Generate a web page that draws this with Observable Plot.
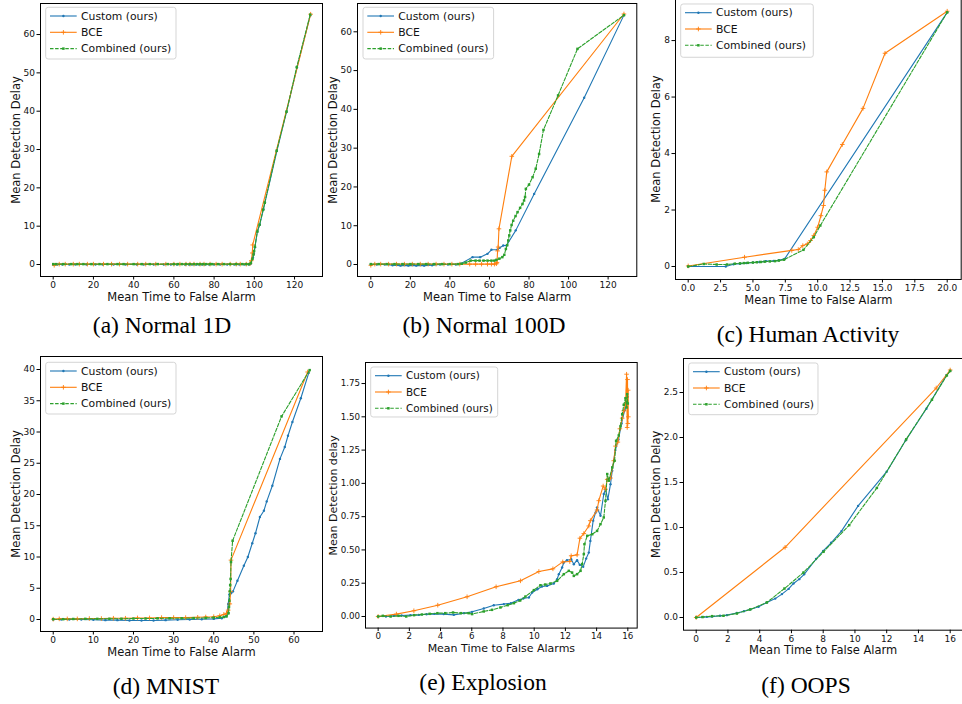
<!DOCTYPE html>
<html><head><meta charset="utf-8">
<script src="https://cdn.jsdelivr.net/npm/d3@7"></script>
<script src="https://cdn.jsdelivr.net/npm/@observablehq/plot@0.6"></script>
<style>
body{margin:0;background:#fff;overflow:hidden;}
#root{position:relative;width:962px;height:704px;overflow:hidden;background:#fff;}
.cap{position:absolute;font-family:"Liberation Serif","Times New Roman",serif;font-size:23.5px;color:#000;transform:translate(-50%,-50%);white-space:nowrap;}
svg{position:absolute;overflow:visible;}
</style></head><body><div id="root"></div>
<script>
// ---------- series meta ----------
const seriesNames = ["Custom (ours)", "BCE", "Combined (ours)"];
const seriesColors = ["#1f77b4", "#ff7f0e", "#2ca02c"];

// ---------- (a) Normal 1D ----------
const normal1d_custom = [[0,0],[2.1,0],[4.5,0],[8,0],[11,0],[16.5,0],[21,0],[24.5,0],[30,0],[36,0],[41.5,0],[45,0],[50,0],[55,0],[58.5,0],[61.5,0],[65.5,0],[67.5,0],[69,0],[71,0],[72.5,0],[74,0],[75.5,0],[77.5,0],[80,0],[83,0],[86.5,0],[90,0],[92.5,0],[95,0],[97.3,0],[98.2,0.2],[99.3,1.8],[99.8,2.8],[100.3,4.5],[101.5,8.6],[102.7,10.4],[104.5,14.4],[105.3,16.2],[111.2,29.6],[116,39.8],[121.2,51.4],[127.8,65.0]];
const normal1d_bce = [[0.5,-0.2],[3,0.1],[6,0.1],[10,0.1],[13,0.1],[17,0.1],[20,0.1],[25,0.1],[29,0.1],[33,0.1],[37,0.1],[42,0.1],[46,0.1],[51,0.1],[56,0.1],[60,0.1],[63,0.1],[66,0.1],[68,0.1],[70,0.1],[73,0.1],[75,0.1],[78,0.1],[81,0.1],[84,0.1],[88,0.1],[91,0.1],[93,0.1],[96,0.1],[97.8,0.2],[98.5,1.0],[99.0,3.0],[99.2,5.1],[128,65.3]];
const normal1d_comb = [[0,0.1],[1.5,0.1],[5,0.1],[9,0.1],[12,0.1],[15,0.1],[19,0.1],[23,0.1],[27,0.1],[32,0.1],[35,0.1],[40,0.1],[44,0.1],[48,0.1],[52,0.1],[57,0.1],[60,0.1],[62,0.1],[64,0.1],[66,0.1],[68,0.1],[70,0.1],[71.5,0.1],[73,0.1],[74.5,0.1],[76,0.1],[78,0.1],[79,0.1],[82,0.1],[85,0.1],[88,0.1],[91,0.1],[94,0.1],[96,0.1],[97.5,0.1],[98.3,0.4],[99.1,1.5],[99.6,2.6],[99.9,3.5],[100.3,4.6],[101.5,8.6],[102.6,10.4],[104.4,14.3],[105.2,16.1],[111.1,29.7],[116,39.9],[121.1,51.5],[127.8,65.2]];

// ---------- (b) Normal 100D ----------
const normal100d_custom = [[0,0],[3,0],[7,0],[11,-0.2],[15,-0.3],[19,-0.3],[23,-0.3],[27,-0.3],[31,-0.2],[35,0],[39,0],[43,0],[45.5,0.2],[51.4,1.9],[55.3,1.9],[59,2.75],[61,3.8],[64,3.8],[65.2,4.3],[67,4.9],[68.6,4.9],[73.3,8.8],[82.6,18.2],[107.9,43],[128,64.3]];
const normal100d_bce = [[0,-0.2],[2,0.1],[5,0.1],[9,0.1],[13,0.1],[17,0.1],[21,0.1],[25,0.1],[29,0.1],[33,0.1],[37,0.1],[41,0.1],[45,0.1],[50,0.1],[53,0.1],[56,0.1],[59,0.1],[61,0.1],[62.5,0.1],[63.5,0.2],[63.8,0.5],[64.1,3.5],[64.4,4.5],[64.8,9.2],[71.3,27.9],[128,64.6]];
const normal100d_comb = [[0,0.1],[4,0.1],[8,0.1],[12,0.1],[16,0.1],[20,0.1],[24,0.1],[28,0.1],[32,0.1],[36,0.1],[40,0.1],[44,0.1],[46,0.2],[48,0.5],[50.5,1.0],[53,1.0],[55,1.0],[57,1.0],[59,1.0],[61,1.0],[62.5,1.0],[63.5,1.2],[65,1.5],[66.5,1.9],[67.5,2.5],[68.3,4.0],[69,5.0],[69.5,6.2],[70,7.5],[70.5,8.8],[71.2,10.2],[72,11.3],[73.2,12.5],[74.2,13.5],[75.5,14.6],[76.7,15.6],[77.5,16.5],[78,17.4],[78.4,19.5],[80,20.6],[81.8,22.5],[83.4,24.7],[85.1,28.5],[87.3,34.7],[94.7,43.6],[104.5,55.6],[128,64.3]];

// ---------- (c) Human Activity ----------
const human_custom = [[0,0],[2.9,0],[3.5,0.08],[4.0,0.1],[4.5,0.12],[5.0,0.14],[5.5,0.16],[6.0,0.19],[6.6,0.2],[7.0,0.22],[7.45,0.27],[20,9.0]];
const human_bce = [[0,0.02],[4.35,0.33],[8.0,0.57],[8.5,0.6],[8.85,0.74],[9.2,0.8],[9.45,0.92],[9.7,1.1],[10.0,1.39],[10.25,1.8],[10.45,2.16],[10.55,2.7],[10.7,3.35],[11.9,4.32],[13.5,5.6],[15.2,7.55],[20,9.04]];
const human_comb = [[0,0],[1.2,0.09],[2.2,0.07],[3.0,0.07],[3.6,0.1],[4.0,0.11],[4.3,0.12],[4.6,0.13],[5.0,0.14],[5.3,0.15],[5.6,0.16],[5.9,0.17],[6.3,0.18],[6.7,0.19],[7.0,0.21],[7.4,0.24],[8.9,0.59],[9.7,1.04],[10.2,1.45],[20,9.0]];

// ---------- (d) MNIST ----------
const mnist_custom = [[0,0],[2,0],[4,0],[7,0],[10,-0.05],[13,-0.1],[16,-0.1],[19,-0.15],[22,-0.15],[25,-0.15],[28,-0.1],[31,-0.05],[34,0],[37,0.05],[40,0.1],[42,0.2],[43,0.5],[43.4,1.2],[43.6,2.5],[43.9,4.0],[44.3,4.2],[44.8,4.5],[45.9,6.2],[47.5,8.6],[48.5,10],[49.6,12.2],[50.4,13.8],[51.5,16.4],[52.5,17.4],[53.2,18.9],[54.6,21.4],[56.5,25.7],[57.7,27.6],[58.5,29.4],[59.6,31.6],[61.7,35.4],[63.7,39.5]];
const mnist_bce = [[0,0.05],[1.5,0.1],[3.5,0.1],[6,0.1],[9,0.15],[12,0.15],[15,0.2],[18,0.2],[21,0.25],[24,0.25],[27,0.3],[30,0.3],[33,0.3],[36,0.35],[38,0.4],[40,0.45],[41.5,0.6],[42.5,0.8],[43.2,1.0],[43.6,1.5],[44.0,2.5],[44.2,4.5],[44.3,9.5],[63.4,39.6]];
const mnist_comb = [[0,0.05],[2.5,0.05],[5,0.08],[8,0.1],[11,0.1],[14,0.12],[17,0.12],[20,0.15],[23,0.15],[26,0.18],[29,0.2],[32,0.2],[35,0.22],[38,0.25],[40,0.3],[41.5,0.35],[42.5,0.4],[43.2,0.5],[43.7,1.0],[43.8,2.0],[43.9,3.0],[44.0,4.5],[44.1,5.5],[44.2,6.5],[44.3,9.2],[44.7,12.6],[56.9,32.5],[63.9,39.9]];

// ---------- (e) Explosion ----------
const explosion_custom = [[0,0],[0.5,0.0],[1.0,0.005],[1.5,0.008],[2.07,0.01],[2.6,0.012],[3.1,0.017],[3.6,0.02],[4.2,0.018],[4.85,0.0125],[5.5,0.025],[6.02,0.035],[6.77,0.06],[7.41,0.085],[8.05,0.093],[8.5,0.1],[9.0,0.125],[9.3,0.135],[9.66,0.143],[9.87,0.18],[10.2,0.205],[10.5,0.225],[10.83,0.23],[11.26,0.248],[11.47,0.28],[11.58,0.318],[11.79,0.368],[11.9,0.406],[12.1,0.423],[12.37,0.43],[12.54,0.393],[12.75,0.423],[12.92,0.388],[13.14,0.373],[13.33,0.435],[13.5,0.48],[13.6,0.568],[13.78,0.72],[13.93,0.78],[14.03,0.82],[14.25,0.756],[14.46,0.92],[14.57,0.956],[14.72,0.88],[14.89,0.994],[15.0,1.094],[15.2,1.25],[15.4,1.33],[15.6,1.45],[15.8,1.55],[15.95,1.6],[16.0,1.65]];
const explosion_bce = [[0,0],[1.17,0.018],[2.29,0.043],[3.82,0.085],[5.7,0.148],[7.56,0.223],[9.12,0.268],[10.3,0.338],[11.2,0.358],[11.83,0.41],[12.28,0.413],[12.37,0.456],[12.75,0.463],[12.93,0.588],[13.18,0.623],[13.5,0.68],[13.6,0.72],[14.03,0.8],[14.14,0.87],[14.42,0.98],[14.57,0.956],[14.68,1.03],[14.89,1.04],[15.1,1.17],[15.21,1.28],[15.36,1.31],[15.49,1.41],[15.64,1.49],[15.74,1.545],[15.85,1.595],[15.92,1.82],[15.96,1.42],[15.98,1.78],[16.0,1.45],[16.02,1.7],[16.03,1.5]];
const explosion_comb = [[0,0.0],[0.3,0.005],[0.8,0.0],[1.3,0.005],[1.8,0.0],[2.3,0.01],[2.8,0.015],[3.3,0.02],[3.8,0.025],[4.3,0.025],[4.8,0.03],[5.3,0.025],[5.8,0.025],[6.02,0.018],[6.77,0.038],[7.3,0.05],[7.84,0.068],[8.3,0.085],[8.7,0.1],[9.1,0.12],[9.44,0.15],[9.98,0.198],[10.4,0.235],[10.7,0.24],[11.04,0.248],[11.47,0.268],[11.9,0.318],[12.22,0.343],[12.43,0.33],[12.54,0.305],[12.75,0.318],[12.97,0.343],[13.07,0.393],[13.18,0.468],[13.22,0.543],[13.4,0.606],[13.72,0.618],[14.03,0.643],[14.25,0.694],[14.46,0.744],[14.57,0.869],[14.68,1.07],[14.78,1.02],[15.0,1.12],[15.15,1.17],[15.25,1.32],[15.42,1.36],[15.53,1.43],[15.64,1.52],[15.74,1.59],[15.85,1.64],[15.92,1.57],[15.96,1.67],[16.0,1.6]];

// ---------- (f) OOPS ----------
const oops_custom = [[0,0],[0.67,0.007],[1.0,0.01],[1.5,0.02],[1.93,0.026],[2.56,0.05],[3.0,0.07],[3.4,0.09],[3.93,0.12],[4.45,0.167],[4.98,0.21],[5.4,0.26],[5.82,0.318],[6.13,0.378],[6.49,0.426],[6.8,0.48],[7.55,0.65],[8.0,0.74],[8.5,0.83],[9.15,0.96],[10.2,1.24],[12.0,1.62],[13.2,1.97],[14.5,2.32],[15.75,2.69],[16,2.74]];
const oops_bce = [[0,0],[5.6,0.78],[15.12,2.55],[16,2.75]];
const oops_comb = [[0,0],[0.4,0.005],[0.99,0.015],[1.72,0.019],[2.56,0.044],[3.4,0.089],[4.45,0.167],[5.56,0.322],[6.76,0.5],[8.02,0.73],[9.64,1.026],[11.38,1.44],[13.23,1.98],[14.85,2.42],[15.79,2.69],[16,2.74]];

// ---------- tick values ----------
const ticks_0_120 = [0,20,40,60,80,100,120];
const ticks_0_60 = [0,10,20,30,40,50,60];
const ticks_0_20 = [0,2.5,5,7.5,10,12.5,15,17.5,20];
const ticks_0_8 = [0,2,4,6,8];
const ticks_0_40 = [0,5,10,15,20,25,30,35,40];
const ticks_0_16 = [0,2,4,6,8,10,12,14,16];
const ticks_0_175 = [0,0.25,0.5,0.75,1,1.25,1.5,1.75];
const ticks_0_25 = [0,0.5,1,1.5,2,2.5];

const root = document.getElementById("root");

function seriesMarks(data, i) {
  const c = seriesColors[i];
  const X = d => d[0], Y = d => d[1];
  const lineOpts = {x: X, y: Y, stroke: c, strokeWidth: 1.1};
  if (i === 2) lineOpts.strokeDasharray = "3.5,1.6";
  const marks = [Plot.line(data, lineOpts)];
  if (i === 0) marks.push(Plot.dot(data, {x: X, y: Y, symbol: "circle", fill: c, r: 1.2}));
  if (i === 1) marks.push(Plot.dot(data, {x: X, y: Y, symbol: "plus", stroke: c, fill: "none", r: 1.6, strokeWidth: 0.9}));
  if (i === 2) marks.push(Plot.dot(data, {x: X, y: Y, symbol: "square", fill: c, r: 1.4}));
  return marks;
}

function drawLegend(svg, bx, by, bw, bh, fs) {
  const g = d3.select(svg).append("g").attr("text-anchor", "start");
  g.append("rect").attr("x", bx).attr("y", by).attr("width", bw).attr("height", bh)
    .attr("rx", 2.5).attr("fill", "#fff").attr("fill-opacity", 0.85)
    .attr("stroke", "#d0d0d0").attr("stroke-width", 0.9);
  const sym = [d3.symbolCircle, d3.symbolPlus, d3.symbolSquare];
  seriesNames.forEach((name, i) => {
    const y = by + 8.7 + i * 16.3;
    const c = seriesColors[i];
    g.append("line").attr("x1", bx + 4.3).attr("x2", bx + 31).attr("y1", y).attr("y2", y)
      .attr("stroke", c).attr("stroke-width", 1.1)
      .attr("stroke-dasharray", i === 2 ? "3.5,1.6" : null);
    const size = i === 0 ? Math.PI * 1.2 * 1.2 : i === 1 ? Math.PI * 1.6 * 1.6 : Math.PI * 1.4 * 1.4;
    g.append("path").attr("d", d3.symbol(sym[i], size)())
      .attr("transform", `translate(${bx + 17.7},${y})`)
      .attr("fill", i === 1 ? "none" : c).attr("stroke", i === 1 ? c : null).attr("stroke-width", 0.9);
    g.append("text").attr("x", bx + 35.3).attr("y", y).attr("dy", "0.35em")
      .attr("text-anchor", "start")
      .attr("font-family", "DejaVu Sans").attr("font-size", fs).attr("fill", "#111").text(name);
  });
}

function panel(cfg) {
  const ml = 50, mr = 6, mt = 6, mb = 36;
  const W = (cfg.r - cfg.l) + ml + mr, H = (cfg.b - cfg.t) + mt + mb;
  const tfs = cfg.tfs || 9, lfs = cfg.lfs || 11.5;
  const marks = [
    Plot.frame({stroke: "#000", strokeWidth: 1}),
    Plot.axisX({ticks: cfg.xticks, tickFormat: cfg.xfmt, tickSize: 3.5, tickPadding: 1.5, fontSize: tfs, label: null, fill: "#111"}),
    Plot.axisY({ticks: cfg.yticks, tickFormat: cfg.yfmt, tickSize: 3.5, tickPadding: 2, fontSize: tfs, label: null, fill: "#111"}),
    Plot.text([cfg.xlabel], {text: d => d, frameAnchor: "bottom", lineAnchor: "middle", textAnchor: "middle", dy: cfg.xdy, fontSize: lfs, fill: "#111"}),
    Plot.text([cfg.ylabel], {text: d => d, frameAnchor: "left", lineAnchor: "middle", textAnchor: "middle", rotate: -90, dx: cfg.ydx, fontSize: lfs, fill: "#111"})
  ];
  cfg.series.forEach((s, i) => marks.push(...seriesMarks(s, i)));
  const svg = Plot.plot({
    width: W, height: H, marginLeft: ml, marginRight: mr, marginTop: mt, marginBottom: mb,
    x: {domain: cfg.xd, label: null},
    y: {domain: cfg.yd, label: null},
    style: {fontFamily: "DejaVu Sans", background: "transparent", overflow: "visible"},
    marks
  });
  svg.style.left = (cfg.l - ml) + "px";
  svg.style.top = (cfg.t - mt) + "px";
  const lg = cfg.legend;
  drawLegend(svg, lg[0] - (cfg.l - ml), lg[1] - (cfg.t - mt), lg[2], lg[3], cfg.lgfs || 10.8);
  root.appendChild(svg);
  const cap = document.createElement("div");
  cap.className = "cap";
  cap.textContent = cfg.caption;
  cap.style.left = cfg.cap[0] + "px";
  cap.style.top = cfg.cap[1] + "px";
  root.appendChild(cap);
}

const intFmt = d3.format("d");
const XL = "Mean Time to False Alarm", YL = "Mean Detection Delay";

panel({l: 40, r: 322, t: 3, b: 276, xd: [-6.32, 133.9], yd: [-3.13, 68.1],
  xticks: ticks_0_120, yticks: ticks_0_60, xfmt: intFmt, yfmt: intFmt,
  xlabel: XL, ylabel: YL, xdy: 21, ydx: -24.5,
  series: [normal1d_custom, normal1d_bce, normal1d_comb],
  legend: [45.7, 7.3, 130.3, 51.7], caption: "(a) Normal 1D", cap: [162, 325]});

panel({l: 356.7, r: 636, t: 3, b: 276, xd: [-6.73, 134.5], yd: [-3.09, 67.3],
  xticks: ticks_0_120, yticks: ticks_0_60, xfmt: intFmt, yfmt: intFmt,
  xlabel: XL, ylabel: YL, xdy: 21, ydx: -24.5,
  series: [normal100d_custom, normal100d_bce, normal100d_comb],
  legend: [362.7, 7.3, 130.6, 51.7], caption: "(b) Normal 100D", cap: [484, 325]});

panel({l: 675, r: 960.7, t: -2, b: 279, xd: [-0.98, 21.08], yd: [-0.46, 9.49],
  xticks: ticks_0_20, yticks: ticks_0_8, xfmt: d3.format(".1f"), yfmt: intFmt,
  xlabel: XL, ylabel: YL, xdy: 21, ydx: -19.5,
  series: [human_custom, human_bce, human_comb],
  legend: [680.7, 4, 132.6, 53.3], caption: "(c) Human Activity", cap: [808, 334]});

panel({l: 40, r: 322, t: 356, b: 631, xd: [-3.17, 67.1], yd: [-1.92, 42.08],
  xticks: ticks_0_60, yticks: ticks_0_40, xfmt: intFmt, yfmt: intFmt,
  xlabel: XL, ylabel: YL, xdy: 21, ydx: -24,
  series: [mnist_custom, mnist_bce, mnist_comb],
  legend: [45.7, 362.3, 130.3, 51.7], caption: "(d) MNIST", cap: [166, 686]});

panel({l: 365, r: 636.7, t: 361.7, b: 627.3, xd: [-0.81, 16.6], yd: [-0.087, 1.908],
  xticks: ticks_0_16, yticks: ticks_0_175, xfmt: intFmt, yfmt: d3.format(".2f"),
  xlabel: "Mean Time to False Alarms", ylabel: "Mean Detection delay", xdy: 20, ydx: -32.5,
  tfs: 8.7, lfs: 11, lgfs: 10.4,
  series: [explosion_custom, explosion_bce, explosion_comb],
  legend: [370.7, 366.7, 127, 50], caption: "(e) Explosion", cap: [483, 682]});

panel({l: 683.3, r: 962.7, t: 358.3, b: 630, xd: [-0.8, 16.8], yd: [-0.141, 2.878],
  xticks: ticks_0_16, yticks: ticks_0_25, xfmt: intFmt, yfmt: d3.format(".1f"),
  xlabel: XL, ylabel: YL, xdy: 20.5, ydx: -27.5,
  series: [oops_custom, oops_bce, oops_comb],
  legend: [689, 363.3, 129.3, 51.7], caption: "(f) OOPS", cap: [806, 685]});
</script></body></html>
